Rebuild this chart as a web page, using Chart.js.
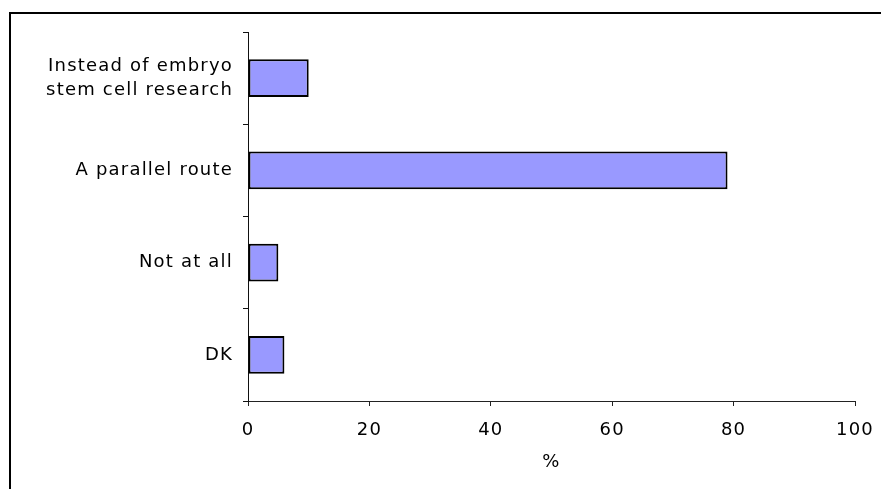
<!DOCTYPE html>
<html>
<head>
<meta charset="utf-8">
<script src="https://cdn.jsdelivr.net/npm/chart.js@4.4.0/dist/chart.umd.min.js"></script>
<style>
  html, body { margin: 0; padding: 0; background: #fff; }
  #wrap { position: relative; width: 881px; height: 489px; overflow: hidden; }
  #frame {
    position: absolute; left: 9px; top: 12px; right: -10px; bottom: -10px;
    border-top: 2px solid #000; border-left: 2px solid #000;
  }
  #chart { position: absolute; left: 0; top: 0; }
</style>
</head>
<body>
<div id="wrap">
  <div id="frame"></div>
  <canvas id="chart" width="881" height="489"></canvas>
</div>
<script>
const categories = [
  ["Instead of embryo", "stem cell research"],
  "A parallel route",
  "Not at all",
  "DK"
];
const percentages = [10, 79, 5, 6];
const xTicks = [0, 20, 40, 60, 80, 100];

const labelFont = { family: "'DejaVu Sans', Verdana, sans-serif", size: 18 };

// wider letter spacing so the labels read like Verdana
const wideText = {
  id: "wideText",
  beforeDraw(chart) { chart.ctx.letterSpacing = "1.2px"; }
};

new Chart(document.getElementById("chart"), {
  type: "bar",
  data: {
    labels: categories,
    datasets: [{
      data: percentages,
      backgroundColor: "#9999ff",
      borderColor: "#000",
      borderWidth: 2,
      borderSkipped: false,
      categoryPercentage: 1,
      barPercentage: 0.41
    }]
  },
  options: {
    indexAxis: "y",
    responsive: false,
    animation: false,
    layout: { padding: { top: 32, right: 26, left: 0, bottom: 0 } },
    plugins: { legend: { display: false }, tooltip: { enabled: false } },
    scales: {
      x: {
        min: 0,
        max: 100,
        afterBuildTicks: (scale) => { scale.ticks = xTicks.map(v => ({ value: v })); },
        afterFit: (scale) => {
          scale.height = 88;
          scale.paddingLeft = 0;
          scale.paddingRight = 0;
        },
        border: { color: "#222", width: 1 },
        grid: { drawOnChartArea: false, tickLength: 5, color: "#222" },
        ticks: { color: "#000", font: labelFont, padding: 14, maxRotation: 0 },
        title: { display: true, text: "%", color: "#000", font: labelFont, padding: { top: 0, bottom: 16 } }
      },
      y: {
        afterFit: (scale) => { scale.width = 248; },
        border: { color: "#111", width: 1 },
        grid: { drawOnChartArea: false, tickLength: 5, color: "#111" },
        ticks: { color: "#000", font: { ...labelFont, lineHeight: 1.35 }, padding: 10 }
      }
    }
  },
  plugins: [wideText]
});
</script>
</body>
</html>
